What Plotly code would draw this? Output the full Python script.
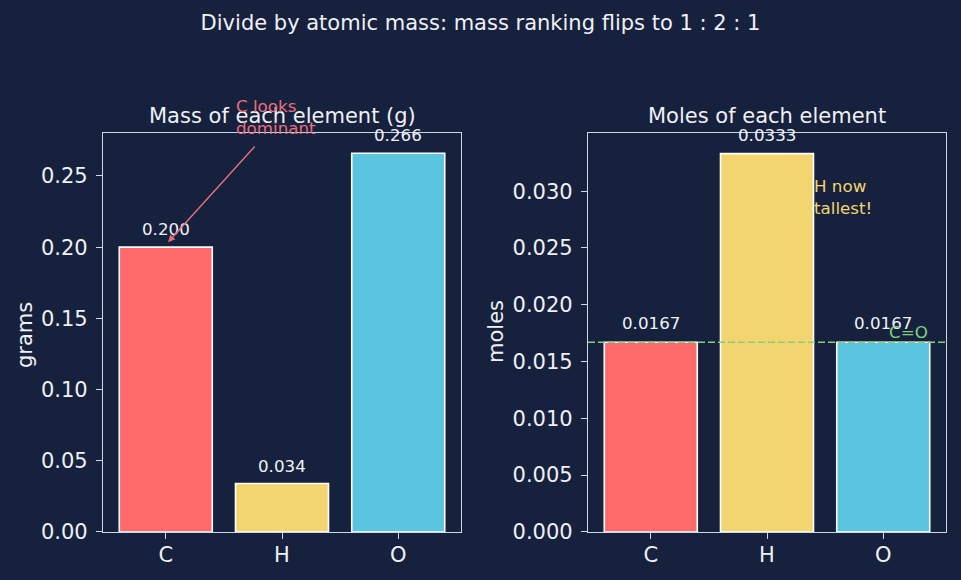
import plotly.graph_objects as go

elements = ["C", "H", "O"]
mass_g = [0.200, 0.034, 0.266]
moles = [0.0167, 0.0333, 0.0167]
mass_labels = ["0.200", "0.034", "0.266"]
mole_labels = ["0.0167", "0.0333", "0.0167"]
colors = ["#FF6B6B", "#F2D56E", "#5BC4DF"]
ratio_line = 0.0167

W, H = 961, 580
K = 1.021  # vertical compensation for the page photograph
BG = "#16213E"
FG = "#F0F0F5"
SPINE = "#D0D8E8"
FONT = "DejaVu Sans"
BIG = 21
SMALL = 16.7


def px(x):
    return x / W


def py(y):
    return (H - y * K) / H


fig = go.Figure()
fig.add_trace(go.Bar(x=elements, y=mass_g, marker=dict(color=colors, line=dict(color="white", width=1.6)),
                     width=0.8, xaxis="x", yaxis="y", showlegend=False, hoverinfo="skip"))
fig.add_trace(go.Bar(x=elements, y=moles, marker=dict(color=colors, line=dict(color="white", width=1.6)),
                     width=0.8, xaxis="x2", yaxis="y2", showlegend=False, hoverinfo="skip"))

annotations = []
for e, v, t in zip(elements, mass_g, mass_labels):
    annotations.append(dict(x=e, y=v, xref="x", yref="y", text=t, showarrow=False, yanchor="middle",
                            yshift=18, font=dict(size=SMALL, color=FG, family=FONT)))
for e, v, t in zip(elements, moles, mole_labels):
    annotations.append(dict(x=e, y=v, xref="x2", yref="y2", text=t, showarrow=False, yanchor="middle",
                            yshift=19, font=dict(size=SMALL, color=FG, family=FONT)))

# subplot titles
annotations.append(dict(x=px(282), y=py(116), xref="paper", yref="paper", text="Mass of each element (g)",
                        xanchor="center", yanchor="middle", showarrow=False,
                        font=dict(size=BIG, color=FG, family=FONT)))
annotations.append(dict(x=px(767), y=py(116), xref="paper", yref="paper", text="Moles of each element",
                        xanchor="center", yanchor="middle", showarrow=False,
                        font=dict(size=BIG, color=FG, family=FONT)))

# y axis titles
annotations.append(dict(x=px(25), y=py(335), xref="paper", yref="paper", text="grams", textangle=-90,
                        xanchor="center", yanchor="middle", showarrow=False,
                        font=dict(size=BIG, color=FG, family=FONT)))
annotations.append(dict(x=px(496), y=py(332), xref="paper", yref="paper", text="moles", textangle=-90,
                        xanchor="center", yanchor="middle", showarrow=False,
                        font=dict(size=BIG, color=FG, family=FONT)))

# arrow (C looks dominant)
annotations.append(dict(x=0.02, y=0.2035, xref="x", yref="y", ax=0.777, ay=0.2718, axref="x", ayref="y",
                        text="", showarrow=True, arrowhead=2, arrowsize=1.0, arrowwidth=1.4, arrowcolor="#E8707A"))
annotations.append(dict(x=px(234), y=py(117), xref="paper", yref="paper", text="C looks<br>dominant",
                        xanchor="left", yanchor="middle", align="left", showarrow=False,
                        font=dict(size=SMALL, color="#E8707A", family=FONT)))
annotations.append(dict(x=px(812), y=py(197.5), xref="paper", yref="paper", text="H now<br>tallest!",
                        xanchor="left", yanchor="middle", align="left", showarrow=False,
                        font=dict(size=SMALL, color="#F2D56E", family=FONT)))
annotations.append(dict(x=px(887), y=py(332), xref="paper", yref="paper", text="C=O",
                        xanchor="left", yanchor="middle", showarrow=False,
                        font=dict(size=SMALL, color="#82D17A", family=FONT)))

axis_common = dict(showline=True, mirror=True, linecolor=SPINE, linewidth=1.3, ticks="outside",
                   tickcolor=SPINE, ticklen=6, tickwidth=1.3, showgrid=False, zeroline=False,
                   tickfont=dict(size=BIG, color=FG, family=FONT))

fig.update_layout(
    width=W, height=H, autosize=False,
    paper_bgcolor=BG, plot_bgcolor=BG,
    margin=dict(l=0, r=0, t=0, b=0),
    title=dict(text="Divide by atomic mass: mass ranking flips to 1 : 2 : 1", x=0.5, xanchor="center",
               y=py(22), yanchor="middle", font=dict(size=BIG, color=FG, family=FONT)),
    xaxis=dict(domain=[px(103), px(461)], range=[-0.54, 2.54], anchor="y", ticklabelstandoff=-2, **axis_common),
    yaxis=dict(domain=[py(532), py(133)], range=[0, 0.2802], anchor="x", tickvals=[0, 0.05, 0.10, 0.15, 0.20, 0.25],
               tickformat=".2f", ticklabelstandoff=4, **axis_common),
    xaxis2=dict(domain=[px(588), px(946)], range=[-0.54, 2.54], anchor="y2", ticklabelstandoff=-2, **axis_common),
    yaxis2=dict(domain=[py(532), py(133)], range=[0, 0.03512], anchor="x2",
                tickvals=[0, 0.005, 0.010, 0.015, 0.020, 0.025, 0.030], tickformat=".3f",
                ticklabelstandoff=4, **axis_common),
    annotations=annotations,
    shapes=[dict(type="line", xref="x2 domain", yref="y2", x0=0, x1=1, y0=ratio_line, y1=ratio_line,
                 line=dict(color="#82D17A", width=1.4, dash="7px,3px"))],
)

fig.write_html("out.html", config={"responsive": False})
